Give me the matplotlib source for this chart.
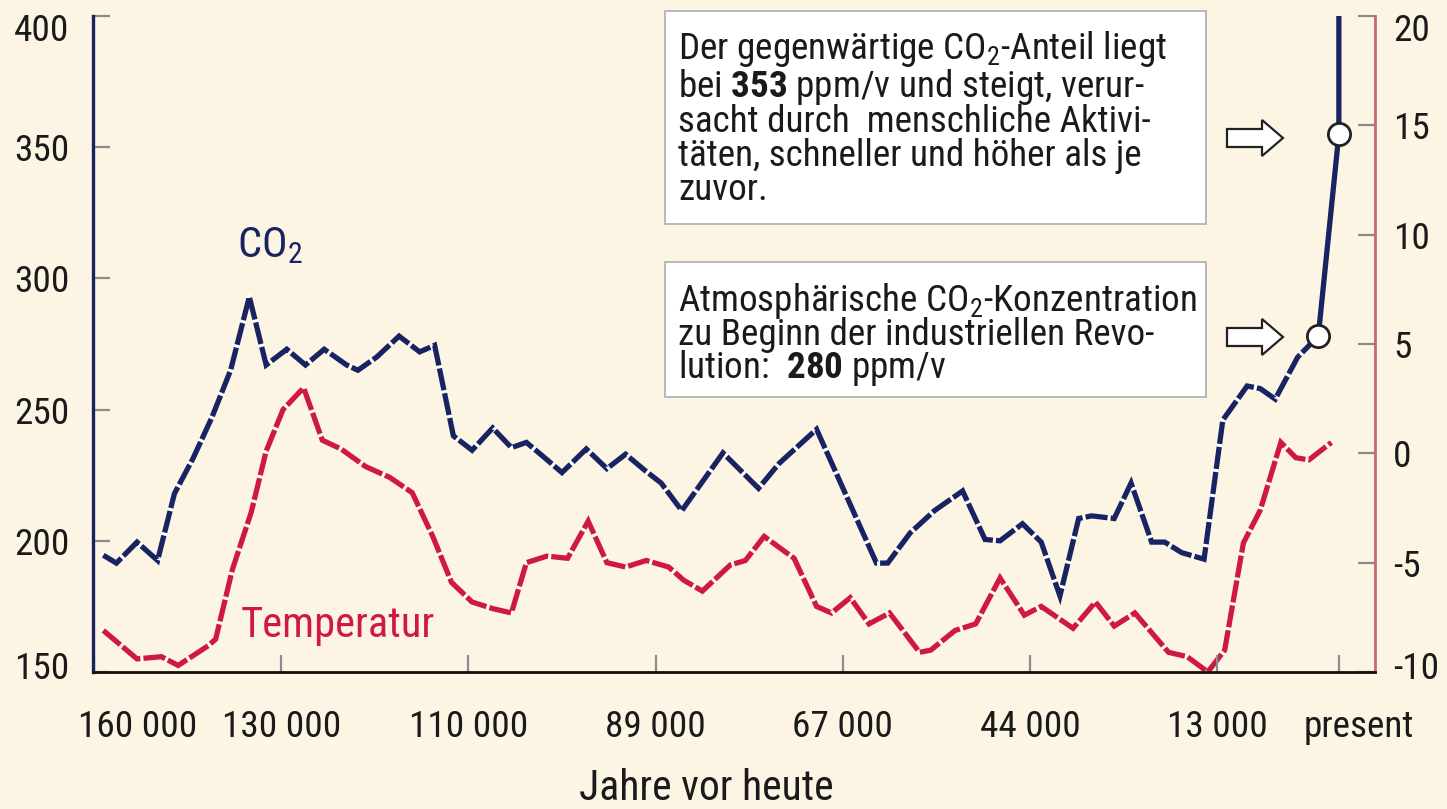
import matplotlib
matplotlib.use('Agg')
import matplotlib.pyplot as plt
from matplotlib import font_manager as fm
from matplotlib.font_manager import FontProperties
from matplotlib.patches import Rectangle, Polygon
from matplotlib.transforms import ScaledTranslation, blended_transform_factory

# ---- pick a condensed font if one is installed ----
def pick_font():
    fl = fm.fontManager.ttflist
    names = {f.name for f in fl}
    for n in ['Liberation Sans Narrow', 'Roboto Condensed', 'Open Sans Condensed',
              'Noto Sans Condensed', 'DejaVu Sans Condensed', 'Arial Narrow']:
        if n in names:
            return n, 'normal'
    for f in fl:
        if ('Narrow' in f.name or 'Condensed' in f.name) and f.style == 'normal':
            return f.name, 'normal'
    for f in fl:
        if f.stretch in ('condensed', 'semi-condensed') and f.style == 'normal':
            return f.name, f.stretch
    return ('Roboto' if 'Roboto' in names else 'Liberation Sans'), 'normal'

FONT, STRETCH = pick_font()
plt.rcParams['font.family'] = [FONT, 'DejaVu Sans']
plt.rcParams['font.stretch'] = STRETCH
plt.rcParams['mathtext.fontset'] = 'custom'
plt.rcParams['mathtext.rm'] = FONT
plt.rcParams['mathtext.bf'] = FONT + ':bold'
plt.rcParams['lines.scale_dashes'] = False
plt.rcParams['axes.unicode_minus'] = False

# ---------------- data ----------------
tick_pos = [0, 1, 2, 3, 4, 5, 6, 6.65]
tick_labels = ['160 000', '130 000', '110 000', '89 000', '67 000', '44 000', '13 000', 'present']

co2_x = [0.05, 0.12, 0.23, 0.34, 0.43, 0.53, 0.63, 0.73, 0.83, 0.92, 1.03, 1.13, 1.23, 1.35,
         1.41, 1.51, 1.63, 1.74, 1.82, 1.92, 2.02, 2.13, 2.23, 2.31, 2.41, 2.50, 2.63, 2.74,
         2.84, 2.94, 3.03, 3.14, 3.36, 3.55, 3.66, 3.86, 4.18, 4.24, 4.36, 4.49, 4.64, 4.76,
         4.84, 4.96, 5.06, 5.16, 5.26, 5.33, 5.45, 5.54, 5.65, 5.72, 5.81, 5.93, 6.03, 6.16,
         6.23, 6.31, 6.43, 6.54, 6.65, 6.65]
co2_ppm = [194.5, 191.5, 199.5, 192.5, 218, 231.5, 247, 265, 293, 267, 273, 267, 273, 267,
           265, 270, 278, 272, 274.5, 240, 234.5, 243, 235.5, 237.5, 231.5, 226, 235, 227.5,
           233, 227, 222, 211.5, 233.5, 220, 229.5, 242.5, 191.5, 191.5, 203, 211.5, 219, 200.5,
           200, 206.5, 199.5, 179, 208.5, 209.5, 208.5, 222, 199.5, 199.5, 195.5, 193, 246, 259,
           258, 254, 270, 278, 355, 400]

temp_x = [0.05, 0.23, 0.36, 0.45, 0.61, 0.65, 0.74, 0.84, 0.92, 1.01, 1.12, 1.22, 1.32, 1.45,
          1.58, 1.70, 1.81, 1.91, 2.02, 2.13, 2.23, 2.31, 2.42, 2.53, 2.64, 2.74, 2.84, 2.95,
          3.07, 3.15, 3.25, 3.40, 3.48, 3.58, 3.74, 3.86, 3.94, 4.04, 4.14, 4.25, 4.41, 4.47,
          4.60, 4.71, 4.84, 4.97, 5.06, 5.23, 5.35, 5.45, 5.56, 5.74, 5.84, 5.95, 6.04, 6.14,
          6.23, 6.34, 6.42, 6.49, 6.61]
temp_c = [-8.1, -9.4, -9.3, -9.7, -8.8, -8.5, -5.3, -2.7, 0.1, 2.0, 3.0, 0.6, 0.2, -0.6,
          -1.1, -1.8, -3.8, -5.9, -6.8, -7.1, -7.3, -5.0, -4.7, -4.8, -3.1, -5.0, -5.2, -4.9,
          -5.2, -5.8, -6.3, -5.1, -4.9, -3.8, -4.8, -7.0, -7.3, -6.6, -7.8, -7.3, -9.1, -9.0,
          -8.1, -7.8, -5.7, -7.4, -7.0, -8.0, -6.8, -7.9, -7.3, -9.1, -9.3, -10.0, -9.0, -4.1,
          -2.6, 0.5, -0.2, -0.3, 0.5]

marked_x = [6.54, 6.65]
marked_ppm = [278, 355]

box1_lines = ['Der gegenwärtige CO$_\\mathrm{2}$-Anteil liegt',
              'bei $\\mathbf{353}$ ppm/v und steigt, verur-',
              'sacht durch  menschliche Aktivi-',
              'täten, schneller und höher als je',
              'zuvor.']
box2_lines = ['Atmosphärische CO$_\\mathrm{2}$-Konzentration',
              'zu Beginn der industriellen Revo-',
              'lution:  $\\mathbf{280}$ ppm/v']

# ---------------- style ----------------
W, H = 1447, 809
BG = '#fdf5e3'
NAVY = '#1a2361'
RED = '#cf1843'
PINK = '#c9667c'
GRAY = '#8c8c8c'
TXT = '#1a1a1a'

fig = plt.figure(figsize=(W / 100, H / 100), dpi=100, facecolor=BG)
renderer = fig.canvas.get_renderer()

def fit_size(s, target_px, base=27):
    t = fig.text(0, 0, s, fontsize=base)
    w = t.get_window_extent(renderer).width
    t.remove()
    return base * target_px / w

LAB = min(30.0, fit_size('130 000', 119))
BOX = min(28.0, fit_size('Der gegenwärtige CO2-Anteil liegt', 492))
BIG = min(33.0, fit_size('Temperatur', 194))
PITCH = 35.7  # px between baselines in the boxes
_, lp_h, lp_d = renderer.get_text_width_height_descent(
    'lp', FontProperties(family=[FONT, 'DejaVu Sans'], size=BOX, stretch=STRETCH), ismath=False)

def fit_ls(lines):
    s = '\n'.join(lines)
    def hgt(ls):
        t = fig.text(0, 0, s, fontsize=BOX, linespacing=ls)
        h = t.get_window_extent(renderer).height
        t.remove()
        return h
    a, b = 0.7, 1.2
    ha, hb = hgt(a), hgt(b)
    slope = (hb - ha) / (b - a)
    target = (len(lines) - 1) * PITCH + lp_h
    return a + (target - ha) / slope

ax = fig.add_axes([93 / W, 1 - 672 / H, (1375 - 93) / W, (672 - 16) / H])
ax.set_facecolor(BG)
ax2 = ax.twinx()

ax.set_xlim(-0.005, 6.843)
ax.set_ylim(150, 400)
ax2.set_ylim(-10, 20)

for s in ['top', 'right']:
    ax.spines[s].set_visible(False)
for s in ['top', 'left', 'bottom']:
    ax2.spines[s].set_visible(False)
ax.spines['left'].set_color(NAVY)
ax.spines['left'].set_linewidth(2.4)
ax.spines['bottom'].set_color('#111111')
ax.spines['bottom'].set_linewidth(2.0)
ax2.spines['right'].set_color(PINK)
ax2.spines['right'].set_linewidth(2.0)

ax.set_yticks(range(150, 401, 50))
ax2.set_yticks(range(-10, 21, 5))
ax.tick_params(axis='y', direction='in', length=12, width=1.6, color=GRAY,
               labelsize=LAB, pad=17, labelcolor=TXT)
ax2.tick_params(axis='y', direction='in', length=12, width=1.6, color=GRAY,
                labelsize=LAB, pad=13, labelcolor=TXT)
ax.set_xticks(tick_pos)
ax.set_xticklabels([''] * len(tick_pos))
ax.tick_params(axis='x', direction='in', length=12, width=1.6, color=GRAY)

# nudge the end labels inward, as in the original
for a in (ax, ax2):
    ticks = a.yaxis.get_major_ticks()
    for t, dy in ((ticks[0], 7), (ticks[-1], -11)):
        for lab in (t.label1, t.label2):
            lab.set_transform(lab.get_transform() +
                              ScaledTranslation(0, dy / 100, fig.dpi_scale_trans))

label_dx = {0: 44, 7: 20}
bt = blended_transform_factory(ax.transData, fig.transFigure)
for i, (p, lab) in enumerate(zip(tick_pos, tick_labels)):
    tr = bt + ScaledTranslation(label_dx.get(i, 0) / 100, 0, fig.dpi_scale_trans)
    ax.text(p, 1 - 727 / H, lab, transform=tr, ha='center', va='center',
            fontsize=LAB, color=TXT)

fig.text(706 / W, 1 - 789 / H, 'Jahre vor heute', ha='center', va='center',
         fontsize=BIG * 0.98, color=TXT)

# ---------------- lines ----------------
LW = 3.8
DASH = (16, 2.2)
n_d = co2_x.index(marked_x[0]) + 1
ax2.plot(temp_x, temp_c, color='white', lw=LW, zorder=2)
ax2.plot(temp_x, temp_c, color=RED, lw=LW, dashes=DASH, dash_joinstyle='miter', zorder=3)
ax.plot(co2_x[:n_d], co2_ppm[:n_d], color='white', lw=LW, zorder=2)
ax.plot(co2_x[:n_d], co2_ppm[:n_d], color=NAVY, lw=LW, dashes=DASH,
        dash_joinstyle='miter', zorder=3)
ax.plot(co2_x[n_d - 1:], co2_ppm[n_d - 1:], color=NAVY, lw=LW, zorder=3,
        solid_capstyle='butt', clip_on=False)
ax.set_zorder(ax2.get_zorder() + 1)
ax.patch.set_visible(False)
ax2.patch.set_facecolor(BG)
ax.plot(marked_x, marked_ppm, 'o', ms=16, mfc='white', mec='#222222', mew=2.0,
        zorder=5, clip_on=False)

fig.text(270 / W, 1 - 246 / H, r'CO$_\mathrm{2}$', ha='center', va='center',
         fontsize=BIG, color=NAVY)
fig.text(338 / W, 1 - 625 / H, 'Temperatur', ha='center', va='center',
         fontsize=BIG, color=RED)

# ---------------- annotation boxes ----------------
def box(x0, y0, x1, y1):
    fig.patches.append(Rectangle((x0 / W, 1 - y1 / H), (x1 - x0) / W, (y1 - y0) / H,
                                 transform=fig.transFigure, fc='white', ec='#b3b3b3',
                                 lw=1.3, zorder=6))

box(665, 11, 1206, 224)
box(665, 262, 1206, 397)

def block(lines, first_baseline):
    # 'baseline' alignment of a multi-line text refers to its last line
    last = first_baseline + (len(lines) - 1) * PITCH
    fig.text(678 / W, 1 - last / H, '\n'.join(lines), ha='left', va='baseline',
             fontsize=BOX, color=TXT, linespacing=fit_ls(lines), zorder=7)

block(box1_lines, 57)
block(box2_lines, 307)

def arrow(cy, x0=1227, x1=1283, xh=1262, tw=9, hw=18):
    pts = [(x0, cy - tw), (xh, cy - tw), (xh, cy - hw), (x1, cy), (xh, cy + hw),
           (xh, cy + tw), (x0, cy + tw)]
    pts = [(px / 100, (H - py) / 100) for px, py in pts]
    fig.patches.append(Polygon(pts, closed=True, transform=fig.dpi_scale_trans,
                               fc='white', ec='#222222', lw=1.6, zorder=6))

arrow(138)
arrow(337)

fig.savefig('out.png', dpi=100, facecolor=BG)
